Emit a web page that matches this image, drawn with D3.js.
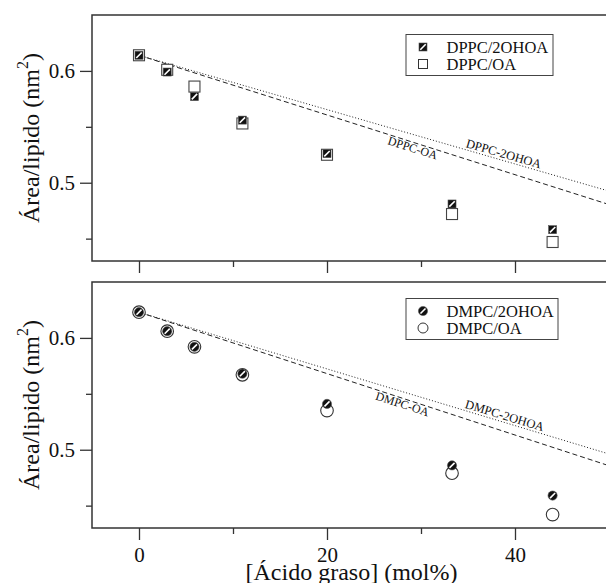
<!DOCTYPE html>
<html>
<head>
<meta charset="utf-8">
<script src="https://cdn.jsdelivr.net/npm/d3@7"></script>
<style>
  html, body { margin: 0; padding: 0; background: #fff; }
  svg { display: block; }
  text { font-family: "Liberation Serif", "Times New Roman", serif; fill: #111; }
</style>
</head>
<body>
<svg id="chart" width="606" height="583"></svg>
<script>
// ---- data ----
const xPct = [0, 3, 5.9, 11, 20, 33.3, 44];
const dppc2OHOA = [0.614, 0.599, 0.577, 0.556, 0.526, 0.481, 0.458];
const dppcOA    = [0.614, 0.601, 0.586, 0.553, 0.525, 0.472, 0.447];
const dmpc2OHOA = [0.623, 0.606, 0.592, 0.568, 0.541, 0.486, 0.459];
const dmpcOA    = [0.623, 0.606, 0.592, 0.567, 0.535, 0.479, 0.442];

const lineX = [0, 50];
const dppcOALine    = [0.614, 0.4805];
const dppc2OHOALine = [0.614, 0.4925];
const dmpcOALine    = [0.623, 0.4857];
const dmpc2OHOALine = [0.623, 0.4962];

const xMajorTicks = [0, 20, 40];
const xMinorTicks = [10, 30];
const yMajorTicks = [0.5, 0.6];
const yMinorTicks = [0.45, 0.55];

const xDomain = [-5, 50];
const yDomain = [0.43, 0.65];

const svg = d3.select("#chart");
const left = 92, right = 609;
const x = d3.scaleLinear().domain(xDomain).range([left, right]);

const panels = [
  { top: 15, bottom: 261, solid: dppc2OHOA, open: dppcOA, shape: "square",
    legend: ["DPPC/2OHOA", "DPPC/OA"], legY: 34.5,
    lines: [
      { vals: dppcOALine, dash: "5,3", label: "DPPC-OA", lx: 29.3, dy: 9.5, fs: 12 },
      { vals: dppc2OHOALine, dash: "1,2", label: "DPPC-2OHOA", lx: 38.6, dy: -2.5, fs: 12.5 }
    ], xLabels: false, clipId: "c1" },
  { top: 282, bottom: 528, solid: dmpc2OHOA, open: dmpcOA, shape: "circle",
    legend: ["DMPC/2OHOA", "DMPC/OA"], legY: 298.5,
    lines: [
      { vals: dmpcOALine, dash: "5,3", label: "DMPC-OA", lx: 28.2, dy: 9.5, fs: 12 },
      { vals: dmpc2OHOALine, dash: "1,2", label: "DMPC-2OHOA", lx: 38.7, dy: -2.5, fs: 12.5 }
    ], xLabels: true, clipId: "c2" }
];

const defs = svg.append("defs");

function drawSolid(g, shape, cx, cy, big) {
  if (shape === "square") {
    const s = big ? 8 : 8;
    g.append("rect").attr("x", cx - s/2).attr("y", cy - s/2).attr("width", s).attr("height", s)
      .attr("fill", "#111").attr("stroke", "#555").attr("stroke-width", 0.6);
    g.append("line").attr("x1", cx - s/2 + 1.3).attr("y1", cy + s/2 - 1.3)
      .attr("x2", cx + s/2 - 1.3).attr("y2", cy - s/2 + 1.3)
      .attr("stroke", "#fff").attr("stroke-width", 1.6);
  } else {
    const r = 4.6;
    g.append("circle").attr("cx", cx).attr("cy", cy).attr("r", r)
      .attr("fill", "#111").attr("stroke", "#555").attr("stroke-width", 0.6);
    g.append("line").attr("x1", cx - r*0.55).attr("y1", cy + r*0.55)
      .attr("x2", cx + r*0.55).attr("y2", cy - r*0.55)
      .attr("stroke", "#fff").attr("stroke-width", 1.6);
  }
}
function drawOpen(g, shape, cx, cy) {
  if (shape === "square") {
    const s = 11;
    g.append("rect").attr("x", cx - s/2).attr("y", cy - s/2).attr("width", s).attr("height", s)
      .attr("fill", "#fff").attr("stroke", "#444").attr("stroke-width", 1.1);
  } else {
    g.append("circle").attr("cx", cx).attr("cy", cy).attr("r", 6.3)
      .attr("fill", "#fff").attr("stroke", "#333").attr("stroke-width", 1.1);
  }
}

panels.forEach(p => {
  const y = d3.scaleLinear().domain(yDomain).range([p.bottom, p.top]);
  const g = svg.append("g");

  defs.append("clipPath").attr("id", p.clipId).append("rect")
    .attr("x", left).attr("y", p.top).attr("width", right - left).attr("height", p.bottom - p.top);

  // theoretical lines
  const lineGen = d3.line().x((d, i) => x(lineX[i])).y(d => y(d));
  p.lines.forEach(L => {
    g.append("path").datum(L.vals).attr("d", lineGen)
      .attr("clip-path", `url(#${p.clipId})`)
      .attr("fill", "none").attr("stroke", "#222").attr("stroke-width", 1)
      .attr("stroke-dasharray", L.dash);
    const ang = Math.atan2(y(L.vals[1]) - y(L.vals[0]), x(lineX[1]) - x(lineX[0])) * 180 / Math.PI;
    const ly = L.vals[0] + (L.vals[1] - L.vals[0]) * (L.lx - lineX[0]) / (lineX[1] - lineX[0]);
    g.append("text")
      .attr("transform", `translate(${x(L.lx)},${y(ly)}) rotate(${ang})`)
      .attr("text-anchor", "middle").attr("dy", L.dy)
      .attr("font-size", L.fs).text(L.label);
  });

  // data markers
  xPct.forEach((xv, i) => drawOpen(g, p.shape, x(xv), y(p.open[i])));
  xPct.forEach((xv, i) => drawSolid(g, p.shape, x(xv), y(p.solid[i])));

  // frame
  g.append("rect").attr("x", left).attr("y", p.top).attr("width", right - left)
    .attr("height", p.bottom - p.top).attr("fill", "none").attr("stroke", "#333").attr("stroke-width", 1.5);

  // y axis
  const yMaj = g.append("g").attr("transform", `translate(${left},0)`)
    .call(d3.axisLeft(y).tickValues(yMajorTicks).tickSize(12).tickPadding(5).tickFormat(d3.format(".1f")));
  const yMin = g.append("g").attr("transform", `translate(${left},0)`)
    .call(d3.axisLeft(y).tickValues(yMinorTicks).tickSize(6).tickFormat(""));
  // x axis
  const xMaj = g.append("g").attr("transform", `translate(0,${p.bottom})`)
    .call(d3.axisBottom(x).tickValues(xMajorTicks).tickSize(12).tickPadding(7)
      .tickFormat(p.xLabels ? d3.format("d") : ""));
  const xMin = g.append("g").attr("transform", `translate(0,${p.bottom})`)
    .call(d3.axisBottom(x).tickValues(xMinorTicks).tickSize(6).tickFormat(""));
  [yMaj, yMin, xMaj, xMin].forEach(a => {
    a.select(".domain").remove();
    a.selectAll("line").attr("stroke", "#333").attr("stroke-width", 1.3);
    a.selectAll("text").attr("font-family", "Liberation Serif, Times New Roman, serif")
      .attr("font-size", 21).attr("fill", "#222");
  });

  // y axis label
  const cy = (p.top + p.bottom) / 2;
  const yl = g.append("text").attr("transform", `translate(39,${cy}) rotate(-90)`)
    .attr("text-anchor", "middle").attr("font-size", 24).attr("fill", "#222");
  yl.append("tspan").text("Área/lipido (nm");
  yl.append("tspan").attr("font-size", 16).attr("dy", -11).text("2");
  yl.append("tspan").attr("dy", 11).text(")");

  // legend
  const lx0 = 406, lw = p.shape === "square" ? 147 : 152;
  const lg = g.append("g");
  lg.append("rect").attr("x", lx0).attr("y", p.legY).attr("width", lw).attr("height", 41)
    .attr("fill", "#fff").attr("stroke", "#444").attr("stroke-width", 1);
  const r1 = p.legY + 12.5, r2 = p.legY + 29.5;
  drawSolid(lg, p.shape, 423, r1);
  if (p.shape === "square") {
    lg.append("rect").attr("x", 423 - 4.5).attr("y", r2 - 4.5).attr("width", 9).attr("height", 9)
      .attr("fill", "#fff").attr("stroke", "#333").attr("stroke-width", 1);
  } else {
    lg.append("circle").attr("cx", 423).attr("cy", r2).attr("r", 5)
      .attr("fill", "#fff").attr("stroke", "#333").attr("stroke-width", 1);
  }
  lg.append("text").attr("x", 446.5).attr("y", r1 + 5.8).attr("font-size", 16.5).attr("fill", "#222").text(p.legend[0]);
  lg.append("text").attr("x", 446.5).attr("y", r2 + 5.8).attr("font-size", 16.5).attr("fill", "#222").text(p.legend[1]);
});

// x axis title
svg.append("text").attr("x", (left + right) / 2 + 1).attr("y", 580)
  .attr("text-anchor", "middle").attr("font-size", 24).attr("fill", "#222")
  .text("[Ácido graso] (mol%)");
</script>
</body>
</html>
